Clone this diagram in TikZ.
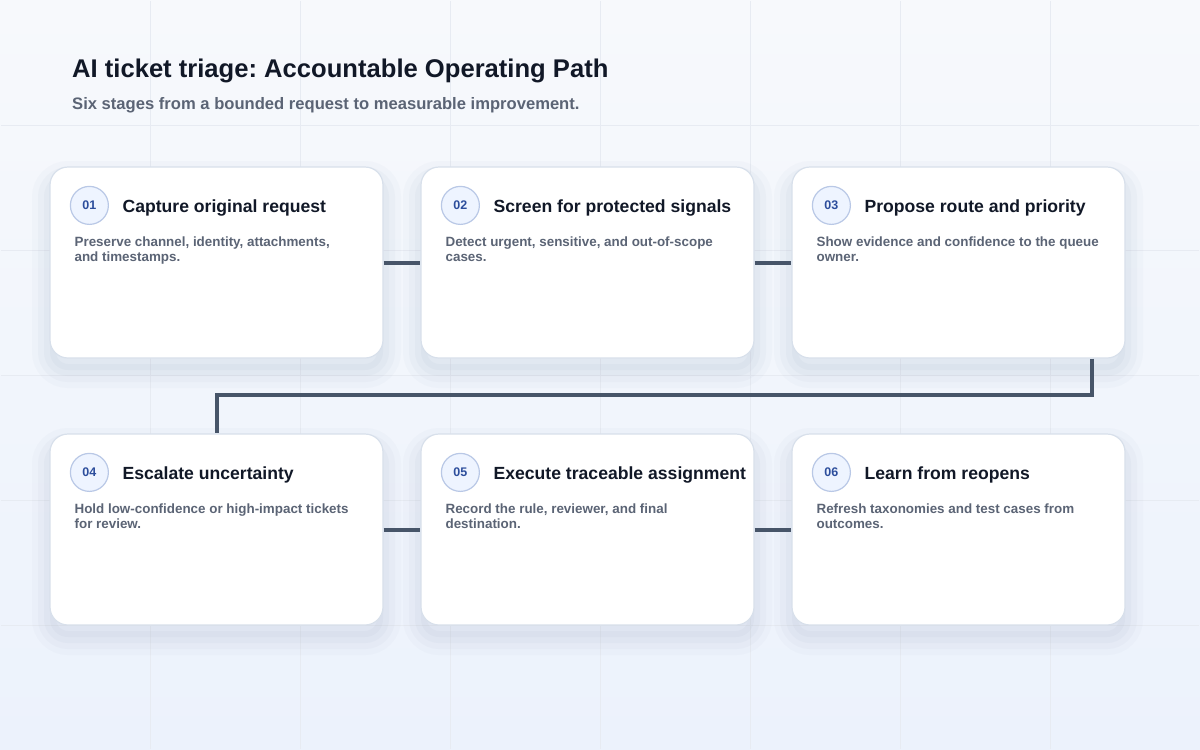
\documentclass[tikz,border=0pt]{standalone}
\usepackage{fontspec}
\setmainfont{Liberation Sans}
\usepackage{xcolor}
\usepackage{tikz}
\usetikzlibrary{positioning}
\definecolor{pagetop}{HTML}{F7F9FC}
\definecolor{pagebot}{HTML}{ECF2FC}
\definecolor{gridcol}{HTML}{E7EBF2}
\definecolor{inkdark}{HTML}{111827}
\definecolor{inkgray}{HTML}{5B6475}
\definecolor{cardline}{HTML}{D8E0EB}
\definecolor{shadowcol}{HTML}{8A9AB8}
\definecolor{numfill}{HTML}{EEF4FF}
\definecolor{numline}{HTML}{B9C8E6}
\definecolor{numink}{HTML}{2D4E9C}
\definecolor{linkcol}{HTML}{475569}
\newcommand{\fsz}[2]{\fontsize{#1}{#2}\selectfont}
\frenchspacing

\begin{document}
\begin{tikzpicture}[x=1pt, y=-1pt,
	card/.style={draw=cardline, line width=1.2pt, fill=white, rounded corners=18pt,
		minimum width=333pt, minimum height=191pt, inner sep=0pt,
		preaction={draw=shadowcol, draw opacity=0.04, line width=36pt, transform canvas={yshift=-12pt}},
		preaction={draw=shadowcol, draw opacity=0.05, line width=24pt, transform canvas={yshift=-12pt}},
		preaction={draw=shadowcol, draw opacity=0.06, line width=12pt, transform canvas={yshift=-12pt}},
		preaction={fill=shadowcol, fill opacity=0.06, transform canvas={yshift=-12pt}}},
	numdot/.style={circle, draw=numline, line width=1.2pt, fill=numfill, minimum size=38pt,
		inner sep=0pt, text=numink, font=\bfseries\fsz{12.5}{14}},
	cardtitle/.style={anchor=base west, inner sep=0pt, text=inkdark, font=\bfseries\fsz{17.6}{20}},
	cardtext/.style={anchor=base west, inner sep=0pt, text=inkgray, align=left, font=\bfseries\fsz{13.4}{15}},
	link/.style={draw=linkcol, line width=4pt}]
	\useasboundingbox (0,0) rectangle (1200,750);
	\shade[top color=pagetop, bottom color=pagebot] (0,0) rectangle (1200,750);
	\draw[gridcol, line width=0.6pt, xstep=150pt, ystep=125pt] (1,1) grid (1199,749);

	% heading
	\node[anchor=base west, inner sep=0pt, text=inkdark, font=\bfseries\fsz{25.6}{30}] (head) at (72,77) {AI ticket triage: Accountable Operating Path};
	\node[anchor=base west, inner sep=0pt, text=inkgray, font=\bfseries\fsz{16.6}{20}] (sub) at (72,109) {Six stages from a bounded request to measurable improvement.};

	% cards and connectors
	\coordinate (bend) at (1092,395);
	\node[card] (c1) at (216.5,262.5) {};
	\node[card] (c2) at (587.5,262.5) {};
	\node[card] (c3) at (958.5,262.5) {};
	\node[card] (c4) at (216.5,529.5) {};
	\node[card] (c5) at (587.5,529.5) {};
	\node[card] (c6) at (958.5,529.5) {};
	\draw[link] (c1.east) -- (c2.west);
	\draw[link] (c2.east) -- (c3.west);
	\draw[link] (c3.south -| bend) -- (bend) -| (c4.north);
	\draw[link] (c4.east) -- (c5.west);
	\draw[link] (c5.east) -- (c6.west);

	% stage 1
	\node[numdot] (n1) at ([xshift=40pt,yshift=-39pt]c1.north west) {01};
	\node[cardtitle] (t1) at ([xshift=73pt,yshift=-46pt]c1.north west) {Capture original request};
	\node[cardtext] (b1) at ([xshift=25pt,yshift=-95pt]c1.north west) {Preserve channel, identity, attachments,\\and timestamps.};
	% stage 2
	\node[numdot] (n2) at ([xshift=40pt,yshift=-39pt]c2.north west) {02};
	\node[cardtitle] (t2) at ([xshift=73pt,yshift=-46pt]c2.north west) {Screen for protected signals};
	\node[cardtext] (b2) at ([xshift=25pt,yshift=-95pt]c2.north west) {Detect urgent, sensitive, and out-of-scope\\cases.};
	% stage 3
	\node[numdot] (n3) at ([xshift=40pt,yshift=-39pt]c3.north west) {03};
	\node[cardtitle] (t3) at ([xshift=73pt,yshift=-46pt]c3.north west) {Propose route and priority};
	\node[cardtext] (b3) at ([xshift=25pt,yshift=-95pt]c3.north west) {Show evidence and confidence to the queue\\owner.};
	% stage 4
	\node[numdot] (n4) at ([xshift=40pt,yshift=-39pt]c4.north west) {04};
	\node[cardtitle] (t4) at ([xshift=73pt,yshift=-46pt]c4.north west) {Escalate uncertainty};
	\node[cardtext] (b4) at ([xshift=25pt,yshift=-95pt]c4.north west) {Hold low-confidence or high-impact tickets\\for review.};
	% stage 5
	\node[numdot] (n5) at ([xshift=40pt,yshift=-39pt]c5.north west) {05};
	\node[cardtitle] (t5) at ([xshift=73pt,yshift=-46pt]c5.north west) {Execute traceable assignment};
	\node[cardtext] (b5) at ([xshift=25pt,yshift=-95pt]c5.north west) {Record the rule, reviewer, and final\\destination.};
	% stage 6
	\node[numdot] (n6) at ([xshift=40pt,yshift=-39pt]c6.north west) {06};
	\node[cardtitle] (t6) at ([xshift=73pt,yshift=-46pt]c6.north west) {Learn from reopens};
	\node[cardtext] (b6) at ([xshift=25pt,yshift=-95pt]c6.north west) {Refresh taxonomies and test cases from\\outcomes.};
\end{tikzpicture}
\end{document}
